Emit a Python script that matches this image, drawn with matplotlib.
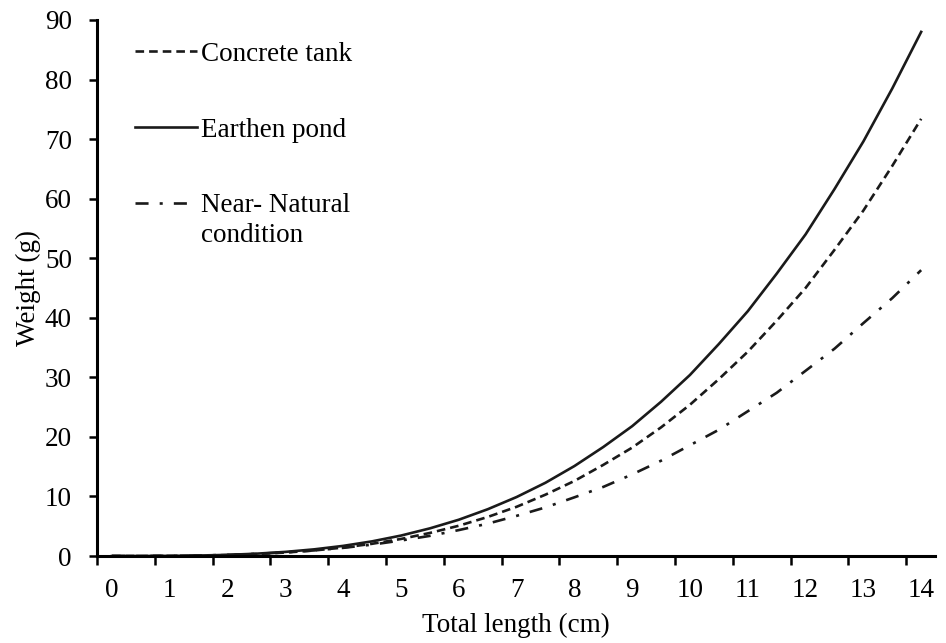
import matplotlib
matplotlib.use("Agg")
import matplotlib.pyplot as plt

length_cm = [0, 0.5, 1, 1.5, 2, 2.5, 3, 3.5, 4, 4.5, 5, 5.5, 6, 6.5, 7,
             7.5, 8, 8.5, 9, 9.5, 10, 10.5, 11, 11.5, 12, 12.5, 13, 13.5, 14]

# weight (g) for each rearing system
concrete_tank = [0, 0.00, 0.02, 0.06, 0.16, 0.33, 0.58, 0.93, 1.42, 2.05, 2.86,
                 3.87, 5.08, 6.55, 8.26, 10.3, 12.6, 15.3, 18.2, 21.6, 25.4,
                 29.7, 34.3, 39.5, 45.0, 51.4, 58.0, 65.5, 73.4]
earthen_pond = [0, 0.00, 0.02, 0.08, 0.19, 0.39, 0.69, 1.12, 1.70, 2.46, 3.43,
                4.64, 6.09, 7.85, 9.90, 12.3, 15.1, 18.3, 21.8, 25.9, 30.4,
                35.6, 41.1, 47.4, 54.0, 61.6, 69.6, 78.5, 88.0]
near_natural = [0, 0.00, 0.03, 0.08, 0.19, 0.36, 0.61, 0.94, 1.37, 1.91, 2.60,
                3.38, 4.35, 5.43, 6.74, 8.16, 9.85, 11.6, 13.7, 16.0, 18.6,
                21.2, 24.3, 27.4, 31.1, 34.8, 39.1, 43.3, 48.0]

x_ticks = [0, 1, 2, 3, 4, 5, 6, 7, 8, 9, 10, 11, 12, 13, 14]
x_ticklabels = [str(v) for v in x_ticks]
y_ticks = [0, 10, 20, 30, 40, 50, 60, 70, 80, 90]

plt.rcParams["font.family"] = ["Liberation Serif", "DejaVu Serif"]
plt.rcParams["lines.scale_dashes"] = False


def main():
    fig = plt.figure(figsize=(9.46, 6.43), dpi=100)
    ax = fig.add_axes([0.1025, 0.1353, 0.9884 - 0.1025, 0.9689 - 0.1353])

    lw = 1.9
    fs = 19.5
    ax.plot(length_cm, concrete_tank, color="#1a1a1a", lw=lw,
            dashes=(6.2, 3.6), label="Concrete tank")
    ax.plot(length_cm, earthen_pond, color="#1a1a1a", lw=lw,
            label="Earthen pond")
    ax.plot(length_cm, near_natural, color="#1a1a1a", lw=lw,
            dashes=(9.4, 8.0, 2.2, 8.0), label="Near- Natural")

    ax.set_xlim(-0.26, 14.24)
    ax.set_ylim(0, 90)

    # labels sit between the tick marks, like a category axis
    ax.set_xticks(x_ticks)
    ax.set_xticklabels(x_ticklabels)
    ax.set_xticks([v - 0.26 for v in x_ticks], minor=True)
    ax.tick_params(axis="x", which="major", length=0, pad=16, labelsize=fs)
    ax.tick_params(axis="x", which="minor", length=6.5, width=1.8,
                   direction="out")
    ax.set_yticks(y_ticks)
    ax.tick_params(axis="y", length=6, width=1.8, direction="out",
                   labelsize=fs, pad=12)

    for side in ["top", "right"]:
        ax.spines[side].set_visible(False)
    for side in ["left", "bottom"]:
        ax.spines[side].set_linewidth(2.2)

    ax.set_xlabel("Total length (cm)", fontsize=fs, labelpad=7)
    ax.set_ylabel("Weight (g)", fontsize=fs, labelpad=3)

    leg = ax.legend(loc="upper left", bbox_to_anchor=(0.045, 0.959),
                    frameon=False, fontsize=fs, handlelength=2.3,
                    handletextpad=0.15, labelspacing=1.87, borderpad=0,
                    borderaxespad=0)
    # second line of the last label, kept under the first so the handle
    # stays level with "Near- Natural"; drawn after the legend
    fig.canvas.draw()
    ax.annotate("condition", xy=(0, 0), xycoords=leg.get_texts()[2],
                xytext=(0, -21.6), textcoords="offset points",
                ha="left", va="bottom", fontsize=fs, zorder=10)

    fig.savefig("out.png", dpi=100)


if __name__ == "__main__":
    main()
